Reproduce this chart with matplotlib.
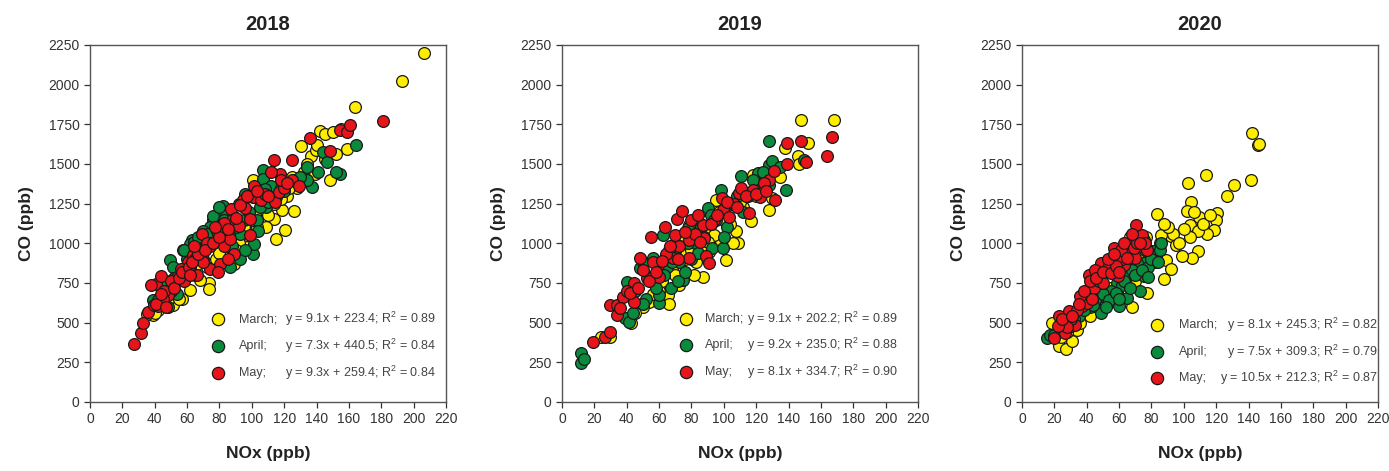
import matplotlib
matplotlib.use("Agg")
import matplotlib.pyplot as plt

plt.rcParams["font.family"] = ["Liberation Sans", "DejaVu Sans"]
plt.rcParams["mathtext.fontset"] = "custom"
plt.rcParams["mathtext.rm"] = "Liberation Sans"
plt.rcParams["mathtext.it"] = "Liberation Sans:italic"

# ---------------------------------------------------------------------------
# NOx / CO pairs (ppb)
# ---------------------------------------------------------------------------

nox_2018_mar = [206.6, 192.8, 163.5, 142, 145, 150, 158.8, 130.5, 136.5, 139.4, 148.4, 126, 120.2, 115,
                114, 118.6, 108.7, 132, 139, 125, 101, 73.6, 73.6, 68, 62, 51.5, 38.8, 35, 97, 88.7,
                84.5, 103, 94.8, 113.4, 56.7, 45.4, 60, 78, 92, 110, 122, 128, 105, 100, 145, 155,
                42, 48, 66, 85, 40, 55, 65, 72, 80, 90, 95, 102, 108, 112, 118, 123, 134, 140, 152]
co_2018_mar = [2197, 2021, 1862, 1706, 1690, 1700, 1595, 1616, 1553, 1585, 1400, 1203, 1081, 1028,
               1155, 1207, 1106, 1448, 1438, 1417, 1396, 749, 714, 766, 707, 609, 546, 556, 976, 871,
               934, 1102, 1060, 1249, 651, 609, 820, 900, 1000, 1180, 1300, 1350, 1270, 1150, 1530, 1720,
               580, 640, 870, 980, 560, 650, 800, 850, 940, 960, 1100, 1180, 1240, 1300, 1280, 1350, 1500,
               1620, 1560]

nox_2018_apr = [164.5, 154.6, 152, 143.7, 146.4, 140.6, 134, 137, 134, 125.8, 106.6, 107, 112, 115,
                109, 101, 96, 101, 101.4, 81.9, 79.4, 76.3, 74, 63, 62, 57.7, 49.5, 51.5, 53.6, 39,
                44.3, 86.6, 92.8, 88.7, 103, 105, 68, 78.4, 70, 84, 95, 120, 130, 60, 66, 56, 47,
                90, 98, 58, 64, 72, 76, 80, 83, 67, 74, 86, 92, 100, 108, 110, 118, 45, 50, 52, 88,
                93, 96, 104, 70, 62, 48, 42]
co_2018_apr = [1622, 1434, 1448, 1578, 1511, 1448, 1480, 1354, 1396, 1396, 1463, 1406, 1364, 1291,
               1228, 1291, 1312, 934, 997, 1238, 1186, 1144, 1102, 1018, 997, 955, 892, 850, 682, 640,
               724, 850, 1060, 1165, 1144, 1228, 934, 1018, 1080, 1200, 1150, 1330, 1420, 900, 980, 800, 760,
               1100, 1200, 960, 1010, 1060, 1170, 1230, 1150, 1040, 1000, 1050, 1250, 1300, 1340, 1260, 1350,
               680, 700, 780, 980, 900, 960, 1080, 900, 850, 600, 640]

nox_2018_may = [27.4, 31.8, 32.6, 36, 39.8, 40.6, 43.7, 48, 42.3, 53.6, 59.8, 60.5, 63.5, 69, 69.3,
                74, 74, 78.4, 82.5, 86.6, 87.2, 88, 94.8, 99, 101.4, 101.4, 105.6, 114.6, 114, 117.5,
                116.5, 125, 125, 129.3, 136, 148.4, 154.6, 158.8, 160.8, 181, 80.4, 88.7, 46, 50, 56,
                65, 72, 92, 108, 120, 45, 58, 66, 70, 83, 96, 112, 38, 41, 44, 47, 52, 55, 57, 61, 63,
                67, 71, 76, 80, 85, 90, 93, 97, 103, 110, 118, 122, 62, 77, 85, 99, 79, 64]
co_2018_may = [367, 434, 497, 570, 609, 741, 791, 672, 602, 787, 808, 882, 924, 926, 1060,
               840, 980, 1077, 980, 1029, 1217, 1144, 1271, 1155, 1364, 1291, 1270, 1260, 1522, 1438,
               1322, 1522, 1396, 1364, 1662, 1580, 1715, 1700, 1748, 1773, 871, 934, 700, 760, 840,
               900, 1000, 1110, 1310, 1350, 650, 760, 800, 880, 1130, 1220, 1450, 740, 620, 680, 600,
               720, 780, 820, 850, 880, 930, 960, 1000, 1040, 1090, 1160, 1240, 1300, 1330, 1300, 1400,
               1380, 800, 1100, 900, 1050, 820, 980]

nox_2019_mar = [147.6, 167.8, 152.3, 137.7, 145.6, 146.2, 128, 116.8, 117.8, 108.6, 105.5, 101.4, 95.2,
                98.3, 87, 81.8, 72.6, 65.4, 54, 42.8, 29.4, 24.3, 78.7, 89, 74.6, 119.9, 130, 82.9,
                91, 39.7, 107.5, 60, 68, 76, 94, 112, 125, 135, 100, 50, 86, 45, 56, 62, 70, 75, 84,
                92, 97, 104, 110, 120, 90, 80, 66]
co_2019_mar = [1776, 1776, 1633, 1601, 1549, 1500, 1212, 1138, 1433, 1001, 1001, 895, 1275,
               1011, 790, 800, 737, 674, 632, 495, 411, 411, 1117, 1096, 1053, 1370, 1285, 885,
               948, 527, 1075, 700, 840, 900, 1050, 1230, 1350, 1420, 1150, 600, 980, 560, 680, 760,
               800, 940, 1000, 1120, 1200, 1120, 1260, 1300, 1010, 960, 620]

nox_2019_apr = [11.9, 11.9, 13.6, 38.7, 41.7, 40, 48, 60.2, 60.2, 67.4, 74.6, 72.6, 77.7, 62.3, 50,
                93, 90.5, 98, 99.3, 110.6, 121, 127.7, 128, 130, 138.4, 149.7, 128, 56, 45, 55, 65,
                70, 82, 86, 95, 105, 115, 120, 135, 52, 80, 102, 44, 50, 58, 63, 68, 72, 78, 84, 88,
                92, 100, 108, 112, 118, 124, 100, 76]
co_2019_apr = [247, 306, 274, 527, 506, 759, 843, 622, 674, 716, 769, 885, 1096, 1053, 885,
               970, 1222, 1338, 969, 1422, 1443, 1643, 1496, 1517, 1338, 1528, 1370, 906, 700, 780, 850,
               950, 1000, 1100, 1150, 1250, 1300, 1380, 1480, 650, 900, 1100, 560, 620, 720, 800, 880,
               760, 1000, 940, 1040, 1180, 1200, 1300, 1200, 1400, 1450, 1040, 820]

nox_2019_may = [19.1, 26.3, 29.8, 29.4, 34, 33.9, 37.6, 44.8, 44.8, 48, 52.4, 55.1, 60.2, 59.2, 63.5,
                66, 68.5, 70.9, 74, 72.6, 78.7, 78.7, 87, 88, 89, 91, 98.9, 99.3, 103.4, 109.6, 110.6,
                117.8, 122.3, 115.8, 128, 131, 131.6, 139, 139, 147.6, 150.7, 163.5, 167, 40, 56, 64,
                82, 94, 106, 125, 36, 42, 47, 50, 54, 58, 62, 67, 70, 76, 80, 84, 92, 96, 102, 108,
                114, 120, 126, 72, 85]
co_2019_may = [379, 411, 438, 611, 548, 611, 664, 748, 632, 906, 784, 1037, 790, 864, 1102,
               959, 906, 1153, 1205, 980, 906, 1022, 1117, 1032, 917, 874, 1285, 1212, 1163, 1317, 1349,
               1338, 1290, 1190, 1401, 1458, 1275, 1633, 1500, 1643, 1513, 1549, 1669, 700, 880, 930,
               1060, 1150, 1250, 1380, 590, 690, 720, 830, 760, 820, 890, 980, 1050, 1070, 1150, 1180,
               1120, 1180, 1260, 1230, 1300, 1310, 1330, 900, 1010]

nox_2020_mar = [142.3, 145.8, 146.5, 141.7, 113.8, 102.5, 131, 126.8, 104.7, 101.7, 120.2, 120, 118.6,
                114.6, 109.3, 103.7, 108.9, 104, 108.5, 105, 99, 83.5, 89.3, 91.8, 88.7, 91.8, 88,
                77.3, 76.7, 67, 68, 22.7, 27.2, 30.9, 18.6, 34, 40, 58.8, 73.2, 79.4, 85, 95, 62,
                50, 45, 82, 70, 55, 93, 100, 24, 28, 36, 42, 52, 60, 65, 72, 78, 84, 86, 90, 97,
                106, 112, 116, 88]
co_2020_mar = [1698, 1620, 1625, 1400, 1432, 1383, 1369, 1301, 1259, 1201, 1194, 1148, 1085,
               1060, 1163, 1117, 1075, 1037, 949, 907, 917, 1184, 1075, 1047, 896, 838, 775,
               686, 1043, 1043, 598, 350, 334, 382, 497, 455, 560, 686, 917, 949, 1000, 990, 820,
               640, 600, 880, 760, 720, 1060, 1090, 410, 440, 500, 540, 660, 730, 880, 840, 900, 950,
               1050, 1100, 1000, 1200, 1120, 1180, 1120]

nox_2020_apr = [15.5, 17.5, 22, 27.8, 36, 48.5, 56.7, 59.8, 65, 66, 72.8, 75.3, 75.3, 81.4, 82.5,
                58.8, 48.5, 40, 71, 65, 52.6, 30, 45, 55, 62, 78, 85, 68, 35, 42, 80, 20, 25, 32,
                38, 44, 50, 54, 58, 63, 67, 70, 74, 78, 84, 86, 60, 76, 52]
co_2020_apr = [403, 424, 450, 497, 560, 560, 634, 602, 655, 802, 697, 791, 875, 949, 917,
               749, 665, 623, 875, 791, 833, 480, 640, 700, 740, 850, 960, 830, 540, 600, 900, 420,
               470, 520, 580, 610, 680, 640, 690, 760, 720, 800, 830, 790, 880, 1000, 650, 960, 600]

nox_2020_may = [19.6, 26.8, 23.1, 29.3, 32.9, 37, 40, 41.2, 39.8, 44.3, 47.4, 48.5, 52.6, 56.7, 59.2,
                62.9, 64.5, 67.4, 70.3, 67, 70, 73.6, 75.3, 77.3, 57.7, 48.5, 45.4, 36, 30, 34, 54,
                60, 66, 72, 50, 43, 62, 28, 22, 25, 31, 35, 38, 42, 46, 50, 55, 58, 61, 63, 65, 69,
                71, 74, 76, 53, 57, 68, 73, 60]
co_2020_may = [403, 434, 539, 571, 487, 602, 623, 802, 686, 718, 760, 791, 833, 970, 791,
               865, 959, 949, 1117, 1001, 907, 980, 1022, 959, 896, 875, 833, 665, 520, 580, 870,
               930, 1000, 1040, 750, 650, 900, 470, 480, 520, 540, 620, 700, 760, 780, 820, 810, 860,
               960, 1000, 910, 970, 1000, 1050, 1000, 900, 930, 1060, 1000, 820]

years = ["2018", "2019", "2020"]
months = ["March;", "April;", "May;"]
fits = [
    ["y = 9.1x + 223.4; R$^2$ = 0.89", "y = 7.3x + 440.5; R$^2$ = 0.84", "y = 9.3x + 259.4; R$^2$ = 0.84"],
    ["y = 9.1x + 202.2; R$^2$ = 0.89", "y = 9.2x + 235.0; R$^2$ = 0.88", "y = 8.1x + 334.7; R$^2$ = 0.90"],
    ["y = 8.1x + 245.3; R$^2$ = 0.82", "y = 7.5x + 309.3; R$^2$ = 0.79", "y = 10.5x + 212.3; R$^2$ = 0.87"],
]

series = [
    [(nox_2018_mar, co_2018_mar), (nox_2018_apr, co_2018_apr), (nox_2018_may, co_2018_may)],
    [(nox_2019_mar, co_2019_mar), (nox_2019_apr, co_2019_apr), (nox_2019_may, co_2019_may)],
    [(nox_2020_mar, co_2020_mar), (nox_2020_apr, co_2020_apr), (nox_2020_may, co_2020_may)],
]

colors = ["#FFEE00", "#0A8A3C", "#E8141B"]

# key layout per panel (axes fraction): marker x, label x, equation right edge, row y's
key_pos = [
    (0.36, 0.418, 0.973, [0.232, 0.157, 0.081]),
    (0.347, 0.403, 0.945, [0.233, 0.160, 0.084]),
    (0.38, 0.44, 1.0, [0.216, 0.140, 0.067]),
]

fig = plt.figure(figsize=(13.89, 4.71), dpi=100)
lefts = [0.0648, 0.4046, 0.7358]

for i, year in enumerate(years):
    ax = fig.add_axes([lefts[i], 0.1465, 0.2563, 0.758])
    for (x, y), c in zip(series[i], colors):
        ax.scatter(x, y, s=72, c=c, edgecolors="#1a1a1a", linewidths=0.9, zorder=3)

    mx, lx, rx, rows = key_pos[i]
    for j in range(3):
        ax.scatter([mx], [rows[j]], s=78, c=colors[j], edgecolors="#1a1a1a", linewidths=0.9,
                   transform=ax.transAxes, zorder=4, clip_on=False)
        ax.text(lx, rows[j], months[j], transform=ax.transAxes, fontsize=9, color="#444444",
                ha="left", va="center")
        ax.text(rx, rows[j], fits[i][j], transform=ax.transAxes, fontsize=9, color="#444444",
                ha="right", va="center")

    ax.set_xlim(0, 220)
    ax.set_ylim(0, 2250)
    ax.set_xticks(range(0, 221, 20))
    ax.set_yticks(range(0, 2251, 250))
    ax.tick_params(direction="out", length=4, width=0.9, labelsize=10, colors="#333333",
                   top=False, right=False)
    for sp in ax.spines.values():
        sp.set_color("#555555")
        sp.set_linewidth(1.0)
    ax.set_xlabel("NOx (ppb)", fontsize=12.5, fontweight="bold", labelpad=14, color="#222222")
    ax.set_ylabel("CO (ppb)", fontsize=12.5, fontweight="bold", labelpad=10, color="#222222")
    ax.set_title(year, fontsize=14.5, fontweight="bold", pad=11, color="#222222")

fig.savefig("out.png", dpi=100)
